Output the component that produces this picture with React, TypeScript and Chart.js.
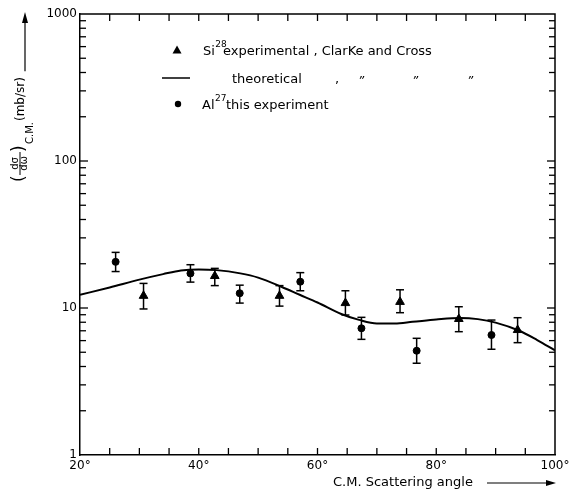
import React, { useEffect, useRef } from "react";
import { Chart, registerables } from "chart.js";

Chart.register(...registerables);

// ---- data ----
const theoryAngle = [20, 25, 30, 34, 37, 40, 43, 47, 50, 54, 57, 60, 64, 67, 70, 73, 76, 80, 84, 87, 90, 94, 97, 100];
const theoryValue = [12.3, 13.8, 15.6, 17.0, 18.0, 18.3, 18.1, 17.2, 16.1, 13.9, 12.3, 10.9, 9.1, 8.3, 7.85, 7.85, 8.05, 8.35, 8.55, 8.4, 7.95, 7.0, 6.05, 5.15];

const siAngle = [30.7, 42.7, 53.6, 64.7, 73.9, 83.8, 93.7];
const siValue = [12.1, 16.5, 12.1, 10.8, 11.0, 8.42, 7.08];
const siHigh = [14.7, 18.6, 14.2, 13.1, 13.3, 10.2, 8.59];
const siLow = [9.85, 14.2, 10.3, 8.96, 9.29, 6.9, 5.81];

const alAngle = [26.0, 38.6, 46.9, 57.1, 67.4, 76.7, 89.3];
const alValue = [20.6, 17.2, 12.6, 15.1, 7.28, 5.12, 6.55];
const alHigh = [23.9, 19.7, 14.3, 17.4, 8.64, 6.22, 8.28];
const alLow = [17.7, 15.0, 10.8, 13.1, 6.12, 4.21, 5.24];

const yTickValues = [
  1, 2, 3, 4, 5, 6, 7, 8, 9,
  10, 20, 30, 40, 50, 60, 70, 80, 90,
  100, 200, 300, 400, 500, 600, 700, 800, 900,
  1000,
];
const yMajorTicks = [1, 10, 100, 1000];
const xLabelledTicks = [20, 40, 60, 80, 100];

const FONT = "'DejaVu Sans', sans-serif";

const errorSets = [
  { angle: siAngle, high: siHigh, low: siLow },
  { angle: alAngle, high: alHigh, low: alLow },
];

const decoPlugin = {
  id: "deco",
  afterDraw(chart: any) {
    const { ctx, chartArea: a, scales } = chart;
    const x = scales.x;
    const y = scales.y;
    const line = (x1: number, y1: number, x2: number, y2: number) => {
      ctx.beginPath();
      ctx.moveTo(x1, y1);
      ctx.lineTo(x2, y2);
      ctx.stroke();
    };
    ctx.save();
    ctx.strokeStyle = "#000";
    ctx.fillStyle = "#000";
    ctx.lineWidth = 1.5;
    // top and right frame
    ctx.beginPath();
    ctx.moveTo(a.left, a.top);
    ctx.lineTo(a.right, a.top);
    ctx.lineTo(a.right, a.bottom);
    ctx.stroke();

    // inward ticks
    ctx.lineWidth = 1.3;
    x.ticks.forEach((t: any) => {
      const v = t.value;
      if (v <= x.min || v >= x.max) return;
      const px = x.getPixelForValue(v);
      line(px, a.bottom, px, a.bottom - 7);
      line(px, a.top, px, a.top + 7);
    });
    y.ticks.forEach((t: any) => {
      const v = t.value;
      if (v <= y.min || v >= y.max) return;
      const py = y.getPixelForValue(v);
      const L = yMajorTicks.includes(v) ? 8 : 6;
      line(a.left, py, a.left + L, py);
      line(a.right, py, a.right - L, py);
    });

    // error bars
    ctx.lineWidth = 1.5;
    errorSets.forEach((s) => {
      s.angle.forEach((ang, i) => {
        const px = x.getPixelForValue(ang);
        const pHi = y.getPixelForValue(s.high[i]);
        const pLo = y.getPixelForValue(s.low[i]);
        line(px, pHi, px, pLo);
        line(px - 4, pHi, px + 4, pHi);
        line(px - 4, pLo, px + 4, pLo);
      });
    });

    // legend
    const lx = 177;
    const rows = [50, 78, 104];
    ctx.beginPath();
    ctx.moveTo(lx, rows[0] - 4.5);
    ctx.lineTo(lx + 4.5, rows[0] + 3.5);
    ctx.lineTo(lx - 4.5, rows[0] + 3.5);
    ctx.closePath();
    ctx.fill();
    ctx.lineWidth = 1.5;
    line(162, rows[1], 190, rows[1]);
    ctx.beginPath();
    ctx.arc(178, rows[2], 3.2, 0, Math.PI * 2);
    ctx.fill();

    ctx.textBaseline = "alphabetic";
    ctx.textAlign = "left";
    ctx.font = `13px ${FONT}`;
    ctx.fillText("Si", 203, rows[0] + 5);
    const wSi = ctx.measureText("Si").width;
    ctx.font = `9px ${FONT}`;
    ctx.fillText("28", 203 + wSi + 0.5, rows[0] - 3);
    ctx.font = `13px ${FONT}`;
    ctx.fillText("experimental , ClarKe and Cross", 223, rows[0] + 5);
    ctx.fillText("theoretical", 232, rows[1] + 5);
    ctx.fillText(",", 335, rows[1] + 5);
    ctx.font = `italic 12px ${FONT}`;
    ctx.fillText("\u201D", 358, rows[1] + 7);
    ctx.fillText("\u201D", 412, rows[1] + 7);
    ctx.fillText("\u201D", 467, rows[1] + 7);
    ctx.font = `13px ${FONT}`;
    ctx.fillText("Al", 202, rows[2] + 5);
    const wAl = ctx.measureText("Al").width;
    ctx.font = `9px ${FONT}`;
    ctx.fillText("27", 202 + wAl + 0.5, rows[2] - 3);
    ctx.font = `13px ${FONT}`;
    ctx.fillText("this experiment", 226, rows[2] + 5);

    // x-axis title
    ctx.font = `13px ${FONT}`;
    ctx.textBaseline = "middle";
    ctx.fillText("C.M. Scattering angle", 333, 483);
    ctx.lineWidth = 1.2;
    line(487, 483, 548, 483);
    ctx.beginPath();
    ctx.moveTo(556, 483);
    ctx.lineTo(546, 480);
    ctx.lineTo(546, 486);
    ctx.closePath();
    ctx.fill();

    // y-axis title (rotated)
    ctx.save();
    ctx.translate(22, 182);
    ctx.rotate(-Math.PI / 2);
    ctx.textBaseline = "middle";
    ctx.textAlign = "left";
    ctx.font = `17px ${FONT}`;
    ctx.fillText("(", 0, -2);
    ctx.fillText(")", 30, -2);
    ctx.textAlign = "center";
    ctx.font = `10px ${FONT}`;
    ctx.fillText("d\u03C3", 18.5, -6.5);
    ctx.fillText("d\u03C9", 18.5, 2.5);
    ctx.lineWidth = 1;
    line(7, -2, 30, -2);
    ctx.textAlign = "left";
    ctx.font = `10px ${FONT}`;
    ctx.fillText("C.M.", 38, 8.5);
    const wCM = ctx.measureText("C.M.").width;
    ctx.font = `12px ${FONT}`;
    const u0 = 38 + wCM + 1;
    ctx.fillText("(mb/sr)", u0, -1);
    const wMb = ctx.measureText("(mb/sr)").width;
    ctx.lineWidth = 1.2;
    line(u0 + wMb + 6, 3, 162, 3);
    ctx.beginPath();
    ctx.moveTo(170, 3);
    ctx.lineTo(159, 0);
    ctx.lineTo(159, 6);
    ctx.closePath();
    ctx.fill();
    ctx.restore();

    ctx.restore();
  },
};

export default function App() {
  const ref = useRef<HTMLCanvasElement | null>(null);
  useEffect(() => {
    if (!ref.current) return;
    const chart = new Chart(ref.current, {
      type: "scatter",
      data: {
        datasets: [
          {
            type: "line",
            label: "theoretical",
            data: theoryAngle.map((a, i) => ({ x: a, y: theoryValue[i] })),
            borderColor: "#000",
            borderWidth: 2,
            pointRadius: 0,
            cubicInterpolationMode: "monotone",
            fill: false,
          } as any,
          {
            label: "Si28",
            data: siAngle.map((a, i) => ({ x: a, y: siValue[i] })),
            pointStyle: "triangle",
            pointRadius: 5,
            backgroundColor: "#000",
            borderColor: "#000",
            borderWidth: 1,
          },
          {
            label: "Al27",
            data: alAngle.map((a, i) => ({ x: a, y: alValue[i] })),
            pointStyle: "circle",
            pointRadius: 3.5,
            backgroundColor: "#000",
            borderColor: "#000",
            borderWidth: 1,
          },
        ],
      },
      options: {
        animation: false,
        responsive: false,
        maintainAspectRatio: false,
        layout: { padding: { top: 14, right: 19, left: 0, bottom: 0 } },
        plugins: { legend: { display: false }, tooltip: { enabled: false } },
        scales: {
          x: {
            type: "linear",
            min: 20,
            max: 100,
            afterFit: (s: any) => {
              s.height = 36;
            },
            grid: { display: false, drawTicks: false },
            border: { display: true, color: "#000", width: 1.5 },
            ticks: {
              stepSize: 5,
              autoSkip: false,
              maxRotation: 0,
              padding: 4,
              color: "#000",
              font: { family: FONT, size: 12 },
              callback: (v: any) => (xLabelledTicks.includes(Number(v)) ? `${v}°` : ""),
            },
          },
          y: {
            type: "logarithmic",
            min: 1,
            max: 1000,
            afterFit: (s: any) => {
              s.width = 80;
            },
            afterBuildTicks: (s: any) => {
              s.ticks = yTickValues.map((v) => ({ value: v }));
            },
            grid: { display: false, drawTicks: false },
            border: { display: true, color: "#000", width: 1.5 },
            ticks: {
              autoSkip: false,
              padding: 3,
              color: "#000",
              font: { family: FONT, size: 12 },
              callback: (v: any) => (yMajorTicks.includes(Number(v)) ? String(v) : ""),
            },
          },
        },
      },
      plugins: [decoPlugin],
    });
    return () => chart.destroy();
  }, []);
  return (
    <div style={{ position: "absolute", left: 0, top: 0, width: 574, height: 491, background: "#fff" }}>
      <canvas ref={ref} width={574} height={491} style={{ display: "block" }} />
    </div>
  );
}
